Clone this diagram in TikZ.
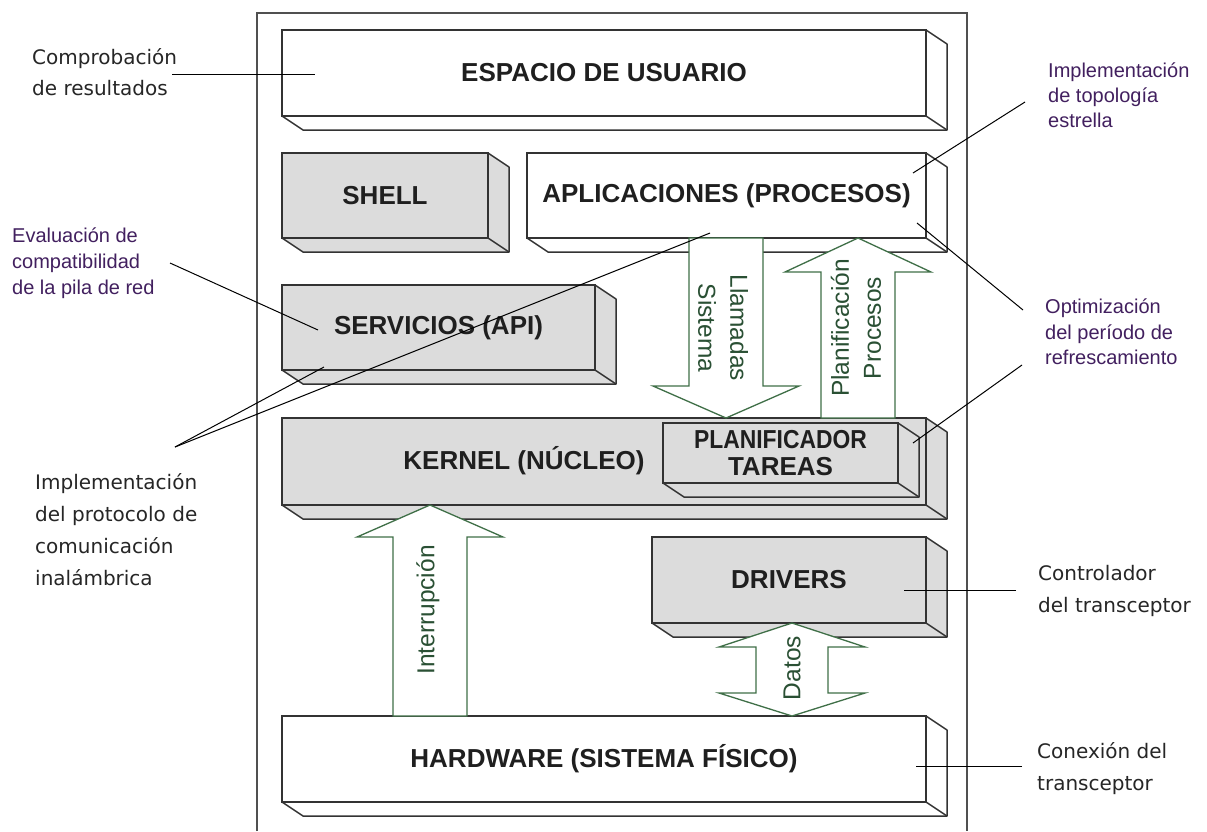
\documentclass[tikz,border=0pt]{standalone}
\usepackage{fontspec}
\setmainfont{Liberation Sans}
\newfontfamily\dvfont{DejaVu Sans}
\usetikzlibrary{calc}
\definecolor{edgec}{HTML}{333333}
\definecolor{boxgray}{HTML}{DCDCDC}
\definecolor{arrowc}{HTML}{3F6F47}
\definecolor{arrowtxt}{HTML}{2A5034}
\definecolor{purp}{HTML}{42205F}
\definecolor{framec}{HTML}{505050}
\newcommand\mkdepth[2]{%
  \filldraw[fill=#2, draw=edgec, line width=1.5pt, line join=round]
    (#1.north east) -- ++(21,14) -- ([shift={(21,14)}]#1.south east)
    -- ([shift={(21,14)}]#1.south west) -- (#1.south west) -- (#1.south east) -- cycle;
  \draw[edgec, line width=1.5pt] (#1.south east) -- ++(21,14);}
\begin{document}
\begin{tikzpicture}[x=1pt,y=-1pt,
  box/.style={draw=edgec, line width=1.5pt, fill=#1, inner sep=0pt, outer sep=0pt, align=center, text=black!88, font=\fontsize{26}{27}\selectfont\bfseries},
  barrow/.style={draw=arrowc, fill=white, line width=1.3pt, line join=miter},
  arrowlbl/.style={text=arrowtxt, font=\fontsize{24.5}{32}\selectfont, align=center, inner sep=0pt},
  blacklbl/.style={font=\dvfont\fontsize{20}{#1}\selectfont, text=black!85, align=left, anchor=west, inner sep=0pt},
  purplbl/.style={font=\fontsize{20}{#1}\selectfont, text=purp, align=left, anchor=west, inner sep=0pt},
  leader/.style={draw=black, line width=1pt},
]
\useasboundingbox (0,0) rectangle (1207,831);
\fill[white] (0,0) rectangle (1207,831);

% outer frame
\draw[framec, line width=1.6pt] (257,831) -- (257,13) -- (967,13) -- (967,831);

% boxes
\node[box=white, minimum width=644pt, minimum height=86pt] (user) at (604,73) {ESPACIO DE USUARIO};
\mkdepth{user}{white}
\node[box=boxgray, minimum width=206pt, minimum height=85pt] (shell) at (385,195.5) {SHELL};
\mkdepth{shell}{boxgray}
\node[box=white, minimum width=399pt, minimum height=85pt] (apps) at (726.5,195.5) {APLICACIONES (PROCESOS)};
\mkdepth{apps}{white}
\node[box=boxgray, minimum width=313pt, minimum height=85pt] (serv) at (438.5,327.5) {SERVICIOS (API)};
\mkdepth{serv}{boxgray}
\node[box=boxgray, minimum width=644pt, minimum height=87pt] (kern) at (604,461.5) {};
\mkdepth{kern}{boxgray}
\node[text=black!88, font=\fontsize{26}{27}\selectfont\bfseries, inner sep=0pt] (kerntxt) at (524,461) {KERNEL (NÚCLEO)};
\node[box=boxgray, minimum width=235pt, minimum height=60pt] (planif) at (780.5,453) {\scalebox{0.88}[1]{PLANIFICADOR}\\TAREAS};
\mkdepth{planif}{boxgray}
\node[box=boxgray, minimum width=274pt, minimum height=86pt] (drv) at (789,580) {DRIVERS};
\mkdepth{drv}{boxgray}
\node[box=white, minimum width=644pt, minimum height=86pt] (hw) at (604,759) {HARDWARE (SISTEMA FÍSICO)};
\mkdepth{hw}{white}

% arrow axes
\coordinate (ax1) at (726,0);
\coordinate (ax2) at (858,0);
\coordinate (ax3) at (430,0);
\coordinate (ax4) at (792,0);

% Llamadas Sistema (down)
\path (apps.south -| ax1) coordinate (l-top) (kern.north -| ax1) coordinate (l-tip);
\draw[barrow] ($(l-top)+(-37,0)$) -- ($(l-tip)+(-37,-32)$) -- ($(l-tip)+(-73,-32)$) -- (l-tip)
  -- ($(l-tip)+(73,-32)$) -- ($(l-tip)+(37,-32)$) -- ($(l-top)+(37,0)$) -- cycle;
% Planificacion Procesos (up)
\path (apps.south -| ax2) coordinate (p-tip) (kern.north -| ax2) coordinate (p-bot);
\draw[barrow] ($(p-bot)+(-37,0)$) -- ($(p-tip)+(-37,34)$) -- ($(p-tip)+(-73,34)$) -- (p-tip)
  -- ($(p-tip)+(73,34)$) -- ($(p-tip)+(37,34)$) -- ($(p-bot)+(37,0)$) -- cycle;
% Interrupcion (up)
\path (kern.south -| ax3) coordinate (i-tip) (hw.north -| ax3) coordinate (i-bot);
\draw[barrow] ($(i-bot)+(-37,0)$) -- ($(i-tip)+(-37,32)$) -- ($(i-tip)+(-73,32)$) -- (i-tip)
  -- ($(i-tip)+(73,32)$) -- ($(i-tip)+(37,32)$) -- ($(i-bot)+(37,0)$) -- cycle;
% Datos (double)
\path (drv.south -| ax4) coordinate (d-top) (hw.north -| ax4) coordinate (d-bot);
\draw[barrow] (d-top) -- ($(d-top)+(73,24)$) -- ($(d-top)+(36,24)$) -- ($(d-bot)+(36,-23)$)
  -- ($(d-bot)+(73,-23)$) -- (d-bot) -- ($(d-bot)+(-73,-23)$) -- ($(d-bot)+(-36,-23)$)
  -- ($(d-top)+(-36,24)$) -- ($(d-top)+(-73,24)$) -- cycle;

% arrow labels
\node[arrowlbl, rotate=-90] (llam) at (723,328) {Llamadas\\Sistema};
\node[arrowlbl, rotate=90] (plan) at (856,328) {Planificación\\Procesos};
\node[arrowlbl, rotate=90] (intr) at (428,610) {Interrupción};
\node[arrowlbl, rotate=90] (datos) at (792,668) {Datos};

% side labels
\node[blacklbl=31] (comp) at (32,72.5) {Comprobación\\de resultados};
\node[purplbl=26] (eval) at (12,263) {Evaluación de\\compatibilidad\\de la pila de red};
\node[blacklbl=32] (proto) at (35,530) {Implementación\\del protocolo de\\comunicación\\inalámbrica};
\node[purplbl=25] (topo) at (1048,95) {Implementación\\de topología\\estrella};
\node[purplbl=25.5] (optim) at (1045,332) {Optimización\\del período de\\refrescamiento};
\node[blacklbl=32] (ctrl) at (1038,591) {Controlador\\del transceptor};
\node[blacklbl=32] (conx) at (1037,769) {Conexión del\\transceptor};

% leader line end points
\coordinate (comp-a) at (172,74);   \coordinate (comp-b) at (315,74);
\coordinate (eval-a) at (170,263);  \coordinate (eval-b) at (318,330);
\coordinate (proto-a) at (175,447); \coordinate (proto-b) at (324,367); \coordinate (proto-c) at (710,233);
\coordinate (topo-a) at (1025,102); \coordinate (topo-b) at (913,173);
\coordinate (opt-a) at (1023,310);  \coordinate (opt-b) at (917,223);
\coordinate (opt-c) at (1022,365);  \coordinate (opt-d) at (913,443);
\coordinate (ctrl-a) at (1016,590); \coordinate (ctrl-b) at (904,590);
\coordinate (conx-a) at (1022,766); \coordinate (conx-b) at (916,766);

\draw[leader] (comp-a) -- (comp-b);
\draw[leader] (eval-a) -- (eval-b);
\draw[leader] (proto-a) -- (proto-b);
\draw[leader] (proto-a) -- (proto-c);
\draw[leader] (topo-a) -- (topo-b);
\draw[leader] (opt-a) -- (opt-b);
\draw[leader] (opt-c) -- (opt-d);
\draw[leader] (ctrl-a) -- (ctrl-b);
\draw[leader] (conx-a) -- (conx-b);
\end{tikzpicture}
\end{document}
